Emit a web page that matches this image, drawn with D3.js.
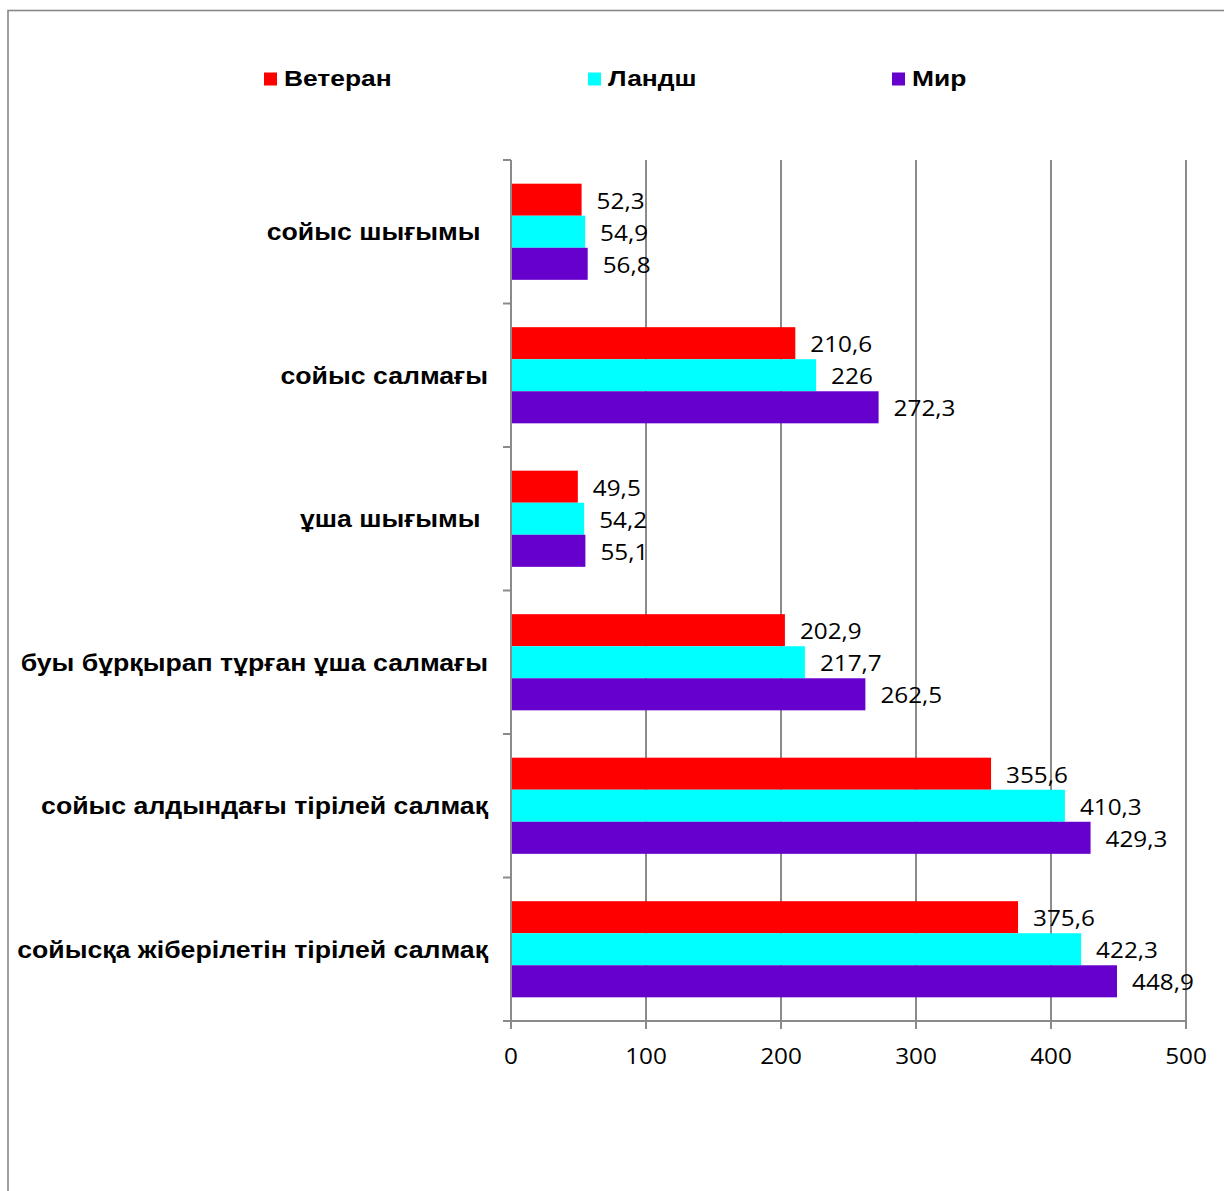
<!DOCTYPE html>
<html>
<head>
<meta charset="utf-8">
<script src="https://cdn.jsdelivr.net/npm/d3@7"></script>
<style>
  html, body { margin: 0; padding: 0; background: #fff; }
  svg { display: block; }
  .cat { font-family: "Liberation Sans", Arial, sans-serif; font-weight: bold; font-size: 23px; fill: #000; white-space: pre; }
  .leg { font-family: "Liberation Sans", Arial, sans-serif; font-weight: bold; font-size: 22px; fill: #000; }
  .num { font-family: "Open Sans", sans-serif; font-size: 22.5px; fill: #000; }
</style>
</head>
<body>
<script>
// Categories, top to bottom
const categories = [
  "сойыс шығымы ",
  "сойыс салмағы",
  "ұша шығымы ",
  "буы бұрқырап тұрған ұша салмағы",
  "сойыс алдындағы тірілей салмақ",
  "сойысқа жіберілетін тірілей салмақ"
];
const seriesNames = ["Ветеран", "Ландш", "Мир"];
const seriesColors = ["#FF0000", "#00FFFF", "#6600CC"];
const veteran = [52.3, 210.6, 49.5, 202.9, 355.6, 375.6];
const landsh  = [54.9, 226, 54.2, 217.7, 410.3, 422.3];
const mir     = [56.8, 272.3, 55.1, 262.5, 429.3, 448.9];
const xTicks = [0, 100, 200, 300, 400, 500];

const seriesValues = [veteran, landsh, mir];
const rows = categories.map((c, i) => ({
  cat: c,
  vals: seriesValues.map((s, k) => ({ key: seriesNames[k], color: seriesColors[k], v: s[i] }))
}));

const W = 1224, H = 1191;
const svg = d3.select("body").append("svg").attr("width", W).attr("height", H);

// outer frame (open on right/bottom edges of the page)
svg.append("rect").attr("x", 8).attr("y", 10.5).attr("width", W + 20).attr("height", H + 20)
  .attr("fill", "none").attr("stroke", "#888").attr("stroke-width", 1.6);

const plot = { left: 511, right: 1186, top: 160, bottom: 1021 };
const x = d3.scaleLinear().domain([0, 500]).range([plot.left, plot.right]);
const y = d3.scaleBand().domain(categories).range([plot.top, plot.bottom])
  .paddingInner(0.33).paddingOuter(0.165);
const yInner = d3.scaleBand().domain(seriesNames).range([0, y.bandwidth()]);
const step = y.step();

const grid = "#8a8a8a";
const numStretch = 1.08;

// vertical gridlines + ticks below x axis
svg.append("g").selectAll("line").data(xTicks).join("line")
  .attr("x1", d => x(d)).attr("x2", d => x(d))
  .attr("y1", plot.top).attr("y2", plot.bottom + 8)
  .attr("stroke", grid).attr("stroke-width", 2);

// bars
const groups = svg.append("g").selectAll("g").data(rows).join("g")
  .attr("transform", d => `translate(0,${y(d.cat)})`);
groups.selectAll("rect").data(d => d.vals).join("rect")
  .attr("x", x(0)).attr("y", d => yInner(d.key))
  .attr("width", d => x(d.v) - x(0)).attr("height", yInner.bandwidth())
  .attr("fill", d => d.color);

// value labels
groups.selectAll("text").data(d => d.vals).join("text")
  .attr("class", "num")
  .attr("transform", d => `translate(${x(d.v) + 15},${yInner(d.key) + yInner.bandwidth() / 2 + 9}) scale(${numStretch},1)`)
  .text(d => String(d.v).replace(".", ","));

// y axis line and ticks at band boundaries
svg.append("line").attr("x1", plot.left).attr("x2", plot.left)
  .attr("y1", plot.top).attr("y2", plot.bottom).attr("stroke", grid).attr("stroke-width", 2);
const bounds = d3.range(categories.length + 1).map(i => plot.top + i * step);
svg.append("g").selectAll("line").data(bounds).join("line")
  .attr("x1", plot.left - 8).attr("x2", plot.left)
  .attr("y1", d => d).attr("y2", d => d)
  .attr("stroke", grid).attr("stroke-width", 2);

// x axis line
svg.append("line").attr("x1", plot.left - 8).attr("x2", plot.right)
  .attr("y1", plot.bottom).attr("y2", plot.bottom).attr("stroke", grid).attr("stroke-width", 2);

// x tick labels
svg.append("g").selectAll("text").data(xTicks).join("text")
  .attr("class", "num").attr("text-anchor", "middle")
  .attr("transform", d => `translate(${x(d)},${plot.bottom + 43}) scale(${numStretch},1)`)
  .text(d => d);

// category labels
const catStretch = 1.16;
svg.append("g").selectAll("text").data(categories).join("text")
  .attr("class", "cat").attr("text-anchor", "end")
  .attr("transform", d => `translate(488,${y(d) - step * 0.165 + step / 2 + 8.5}) scale(${catStretch},1)`)
  .text(d => d);

// legend
const legStretch = 1.2;
const legendX = [264, 588, 892];
const leg = svg.append("g").selectAll("g").data(seriesNames).join("g")
  .attr("transform", (d, i) => `translate(${legendX[i]},72.5)`);
leg.append("rect").attr("width", 13).attr("height", 13).attr("fill", (d, i) => seriesColors[i]);
leg.append("text").attr("class", "leg")
  .attr("transform", `translate(20,13.5) scale(${legStretch},1)`)
  .text(d => d);
</script>
</body>
</html>
